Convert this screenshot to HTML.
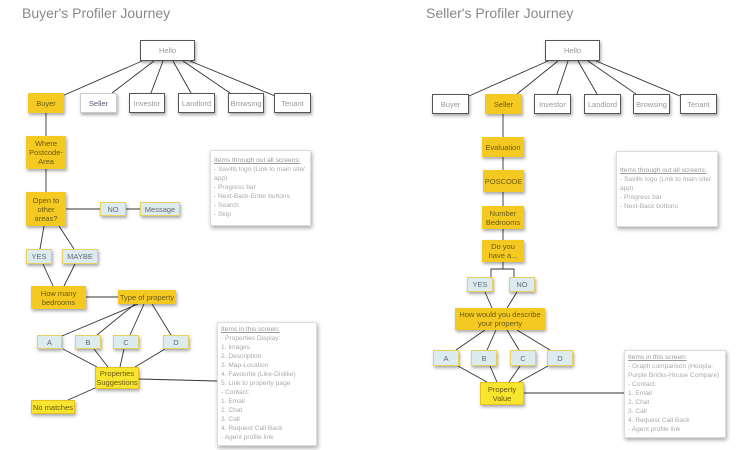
<!DOCTYPE html>
<html><head><meta charset="utf-8"><style>
body{margin:0;width:750px;height:450px;background:#fff;position:relative;overflow:hidden;font-family:"Liberation Sans",sans-serif;}
.n{position:absolute;box-sizing:border-box;display:flex;align-items:center;justify-content:center;text-align:center;font-size:7.5px;line-height:9px;color:#999;box-shadow:1px 2px 3px rgba(0,0,0,0.35);}
.w{background:#fff;border:1.3px solid #555;}
.y{background:#f4c922;color:#6b5a10;}
.yb{background:#f7e52f;color:#6b5a10;border:1px solid #e8c020;}
.b{background:#dcecee;border:1.3px solid #e8d060;color:#667;}
.t{position:absolute;font-size:14px;color:#888;}
.info{position:absolute;box-sizing:border-box;background:#fff;border:1px solid #ddd;box-shadow:1px 2px 4px rgba(0,0,0,0.35);font-size:6.6px;line-height:9px;color:#aaa;padding:5px 3px;white-space:nowrap;}
.info u{color:#999}
svg{position:absolute;left:0;top:0}
</style></head><body>
<svg width="750" height="450" stroke="#333" stroke-width="0.9" fill="none">
<path d="M142 61L62 96M154 61L112 93M163 61L151 93M173 61L191 93M183 61L230 93M190 61L275 96"/>
<path d="M46 113V136M46 169V192M66 209H100M126 209H140"/>
<path d="M44 226L40 249M59 226L74 249M43 264L53 286M75 264L64 286M86 297H118"/>
<path d="M138 304L62 336M135 304L97 335M144 304L130 335M152 304L171 335"/>
<path d="M63 349L97 367M94 349L108 367M124 349L120 367M165 349L135 367M95 388L68 400M139 379L217 381"/>
<path d="M548 61L469 96M558 61L517 94M568 61L557 94M578 61L597 94M588 61L636 94M596 61L680 96"/>
<path d="M503 114V137M503 157V170M503 192V206M503 229V240M503 262V269M491 277V269H514V277"/>
<path d="M485 292L492 308M517 292L507 308"/>
<path d="M485 330L456 350M496 330L487 350M507 330L519 350M517 330L550 350"/>
<path d="M458 366L487 382M490 366L497 382M520 366L509 382M548 366L519 382M524 393H624"/>
</svg>
<div class="t" style="left:22px;top:5px">Buyer's Profiler Journey</div>
<div class="t" style="left:426px;top:5px">Seller's Profiler Journey</div>

<div class="n w" style="left:140px;top:40px;width:55px;height:21px">Hello</div>
<div class="n y" style="left:28px;top:93px;width:36px;height:20px">Buyer</div>
<div class="n w" style="left:80px;top:93px;width:37px;height:20px;border-color:#ccc;color:#557">Seller</div>
<div class="n w" style="left:129px;top:93px;width:36px;height:20px">Investor</div>
<div class="n w" style="left:178px;top:93px;width:37px;height:20px">Landlord</div>
<div class="n w" style="left:228px;top:93px;width:36px;height:20px">Browsing</div>
<div class="n w" style="left:274px;top:93px;width:37px;height:20px">Tenant</div>
<div class="n y" style="left:26px;top:136px;width:40px;height:33px">Where Postcode-Area</div>
<div class="n y" style="left:26px;top:192px;width:40px;height:34px">Open to other areas?</div>
<div class="n b" style="left:100px;top:202px;width:26px;height:14px">NO</div>
<div class="n b" style="left:140px;top:202px;width:40px;height:14px">Message</div>
<div class="n b" style="left:26px;top:249px;width:26px;height:15px">YES</div>
<div class="n b" style="left:62px;top:249px;width:36px;height:15px">MAYBE</div>
<div class="n y" style="left:31px;top:286px;width:55px;height:23px">How many bedrooms</div>
<div class="n y" style="left:118px;top:290px;width:58px;height:14px">Type of property</div>
<div class="n b" style="left:37px;top:335px;width:25px;height:14px">A</div>
<div class="n b" style="left:75px;top:335px;width:26px;height:14px">B</div>
<div class="n b" style="left:113px;top:335px;width:26px;height:14px">C</div>
<div class="n b" style="left:163px;top:335px;width:26px;height:14px">D</div>
<div class="n yb" style="left:95px;top:367px;width:44px;height:22px">Properties Suggestions</div>
<div class="n yb" style="left:31px;top:400px;width:44px;height:14px">No matches</div>
<div class="info" style="left:210px;top:150px;width:101px;height:76px"><u>Items through out all screens:</u><br>- Savills logo (Link to main site/<br>app)<br>- Progress bar<br>- Next-Back-Enter buttons<br>- Search<br>- Skip</div>
<div class="info" style="left:217px;top:322px;width:100px;height:124px;padding-top:2px"><u>Items in this screen:</u><br>- Properties Display:<br>1. Images<br>2. Description<br>3. Map-Location<br>4. Favourite (Like-Dislike)<br>5. Link to property page<br>- Contact:<br>1. Email<br>2. Chat<br>3. Call<br>4. Request Call Back<br>- Agent profile link</div>

<div class="n w" style="left:545px;top:40px;width:55px;height:21px">Hello</div>
<div class="n w" style="left:432px;top:94px;width:37px;height:20px">Buyer</div>
<div class="n y" style="left:485px;top:94px;width:37px;height:20px">Seller</div>
<div class="n w" style="left:534px;top:94px;width:37px;height:20px">Investor</div>
<div class="n w" style="left:584px;top:94px;width:37px;height:20px">Landlord</div>
<div class="n w" style="left:633px;top:94px;width:37px;height:20px">Browsing</div>
<div class="n w" style="left:680px;top:94px;width:37px;height:20px">Tenant</div>
<div class="n y" style="left:482px;top:137px;width:42px;height:20px">Evaluation</div>
<div class="n y" style="left:483px;top:170px;width:41px;height:22px">POSCODE</div>
<div class="n y" style="left:482px;top:206px;width:42px;height:23px">Number Bedrooms</div>
<div class="n y" style="left:482px;top:240px;width:42px;height:22px">Do you have a...</div>
<div class="n b" style="left:467px;top:277px;width:26px;height:15px">YES</div>
<div class="n b" style="left:509px;top:277px;width:26px;height:15px">NO</div>
<div class="n y" style="left:455px;top:308px;width:90px;height:22px">How would you describe your property</div>
<div class="n b" style="left:433px;top:350px;width:26px;height:16px">A</div>
<div class="n b" style="left:471px;top:350px;width:26px;height:16px">B</div>
<div class="n b" style="left:510px;top:350px;width:26px;height:16px">C</div>
<div class="n b" style="left:547px;top:350px;width:26px;height:16px">D</div>
<div class="n yb" style="left:480px;top:382px;width:44px;height:23px">Property Value</div>
<div class="info" style="left:616px;top:151px;width:102px;height:76px;padding-top:14px"><u>Items through out all screens:</u><br>- Savills logo (Link to main site/<br>app)<br>- Progress bar<br>- Next-Back buttons</div>
<div class="info" style="left:624px;top:350px;width:102px;height:88px;padding-top:2px"><u>Items in this screen:</u><br>- Graph comparison (Hoopla-<br>Purple Bricks-House Compare)<br>- Contact:<br>1. Email<br>2. Chat<br>3. Call<br>4. Request Call Back<br>- Agent profile link</div>
</body></html>
